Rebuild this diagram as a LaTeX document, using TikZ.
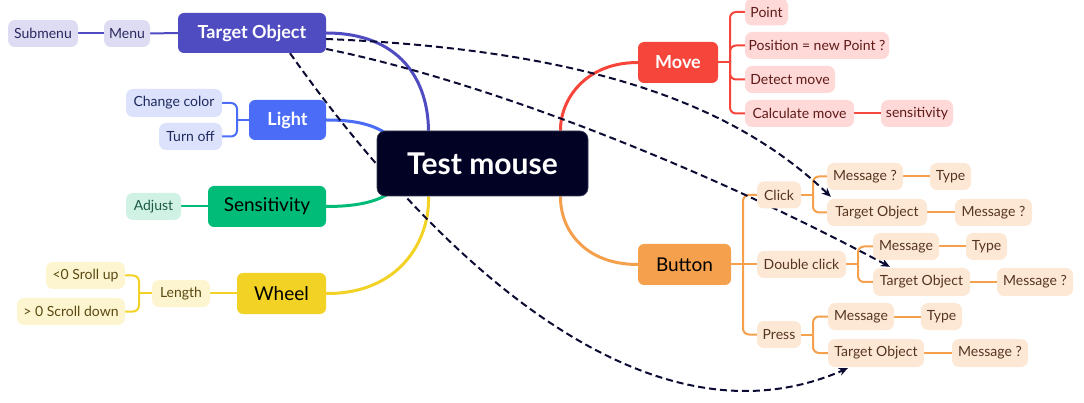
\documentclass[tikz,border=0pt]{standalone}
\usepackage{fontspec}
\setmainfont{Lato}
\usetikzlibrary{arrows.meta,backgrounds,calc}
\definecolor{cnavy}{HTML}{020224}
\definecolor{cbord}{HTML}{3A3A55}
\definecolor{purp}{HTML}{4F4BC1}
\definecolor{purpL}{HTML}{DDDCF2}
\definecolor{purpT}{HTML}{2A2860}
\definecolor{blu}{HTML}{4A6CF7}
\definecolor{bluL}{HTML}{DCE2FC}
\definecolor{bluT}{HTML}{1E2A5E}
\definecolor{grn}{HTML}{00BC78}
\definecolor{grnL}{HTML}{CFF2E5}
\definecolor{grnT}{HTML}{1D5A46}
\definecolor{yel}{HTML}{F2D224}
\definecolor{yelL}{HTML}{FDF5D0}
\definecolor{yelT}{HTML}{5A4A12}
\definecolor{redc}{HTML}{F6453B}
\definecolor{redL}{HTML}{FFD9D8}
\definecolor{redT}{HTML}{5E1A18}
\definecolor{org}{HTML}{F5A04D}
\definecolor{orgL}{HTML}{FDE8D6}
\definecolor{orgT}{HTML}{553520}
\definecolor{dashc}{HTML}{0B0B33}
\begin{document}
\begin{tikzpicture}[x=1pt,y=-1pt,
  sz/.style 2 args={minimum width=#1pt, minimum height=#2pt},
  box/.style={rounded corners=6pt, inner sep=0pt, align=center},
  centerbox/.style={box, fill=cnavy, draw=cbord, line width=0.6pt, text=white, rounded corners=8pt, font=\fontsize{30}{34}\selectfont\bfseries},
  mainw/.style={box, text=white, font=\fontsize{18}{22}\selectfont\bfseries},
  mainb/.style={box, text=black, font=\fontsize{19}{22}\selectfont},
  leaf/.style={box, rounded corners=7pt, font=\fontsize{14}{16}\selectfont},
  pleaf/.style={leaf, fill=purpL, text=purpT},
  bleaf/.style={leaf, fill=bluL, text=bluT},
  gleaf/.style={leaf, fill=grnL, text=grnT},
  yleaf/.style={leaf, fill=yelL, text=yelT},
  rleaf/.style={leaf, fill=redL, text=redT},
  oleaf/.style={leaf, fill=orgL, text=orgT},
  mline/.style={line width=3pt},
  lline/.style={line width=2pt, rounded corners=6pt},
  dline/.style={line width=2pt, dashc, dash pattern=on 7pt off 4pt, -{Stealth[length=9pt,width=8pt]}}
]
\useasboundingbox (0,0) rectangle (1084,403);
% center
\node[centerbox, sz={211}{65}] (c) at (482.5,163.5) {Test mouse};
% Target Object branch
\node[mainw, fill=purp, sz={148}{40}] (targ) at (252,33) {Target Object};
\node[pleaf, sz={46}{27}] (menu) at (127,33.5) {Menu};
\node[pleaf, sz={70}{27}] (sub) at (43,33.5) {Submenu};
% Light branch
\node[mainw, fill=blu, sz={77}{40}] (light) at (287.5,120) {Light};
\node[bleaf, sz={96}{28}] (chg) at (174,103) {Change color};
\node[bleaf, sz={63}{27}] (off) at (190.5,136.5) {Turn off};
% Sensitivity branch
\node[mainb, fill=grn, sz={118}{41}] (sens) at (267,206.5) {Sensitivity};
\node[gleaf, sz={55}{27}] (adj) at (153.5,206.5) {Adjust};
% Wheel branch
\node[mainb, fill=yel, sz={89}{41}] (wheel) at (281.5,293.5) {Wheel};
\node[yleaf, sz={58}{27}] (len) at (181,293.5) {Length};
\node[yleaf, sz={79}{27}] (up) at (85.5,275.5) {<0 Sroll up};
\node[yleaf, sz={108}{27}] (down) at (71,311.5) {> 0 Scroll down};
% Move branch
\node[mainw, fill=redc, sz={80}{41}] (move) at (678,62.5) {Move};
\node[rleaf, sz={43}{27}] (pt) at (766.5,12) {Point};
\node[rleaf, sz={144}{27}] (pos) at (817,45.5) {Position = new Point ?};
\node[rleaf, sz={90}{27}] (det) at (790,79.5) {Detect move};
\node[rleaf, sz={109}{27}] (calcm) at (799.5,113.5) {Calculate move};
\node[rleaf, sz={72}{27}] (sen) at (917,113.5) {sensitivity};
% Button branch
\node[mainb, fill=org, sz={93}{41}] (btn) at (684.5,264.5) {Button};
\node[oleaf, sz={44}{27}] (click) at (779,195) {Click};
\node[oleaf, sz={76}{27}] (mc) at (865,176.5) {Message ?};
\node[oleaf, sz={41}{27}] (tyc) at (950.5,176.5) {Type};
\node[oleaf, sz={100}{27}] (tc) at (877,212.5) {Target Object};
\node[oleaf, sz={77}{27}] (mqc) at (993.5,212.5) {Message ?};
\node[oleaf, sz={89}{27}] (dbl) at (801.5,264.5) {Double click};
\node[oleaf, sz={66}{27}] (md) at (906,246.5) {Message};
\node[oleaf, sz={41}{27}] (tyd) at (986.5,246.5) {Type};
\node[oleaf, sz={97}{28}] (td) at (921.5,282) {Target Object};
\node[oleaf, sz={76}{28}] (mqd) at (1035,282) {Message ?};
\node[oleaf, sz={44}{27}] (press) at (779,334.5) {Press};
\node[oleaf, sz={66}{27}] (mp) at (861,316.5) {Message};
\node[oleaf, sz={41}{27}] (typ) at (941.5,316.5) {Type};
\node[oleaf, sz={96}{28}] (tp) at (876,353) {Target Object};
\node[oleaf, sz={76}{28}] (mqp) at (990,353) {Message ?};
% bracket points
\coordinate (lb) at (237,120);
\coordinate (wb) at (139,293.5);
\coordinate (mb) at (730,62.5);
\coordinate (bb) at (743,264.5);
\coordinate (cb) at (813,195);
\coordinate (db) at (858,264.5);
\coordinate (pb) at (813,334.5);
\begin{scope}[on background layer]
% main curves
\draw[mline, purp] (targ.east) .. controls (400,33) and (428,80) .. ($(c.north)+(-54,0)$);
\draw[mline, blu] (light.east) .. controls (365,120) and (380,128) .. ($(c.north west)+(20,10)$);
\draw[mline, grn] (sens.east) .. controls (362,206.5) and (385,200) .. ($(c.south west)+(20,-10)$);
\draw[mline, yel] (wheel.east) .. controls (400,294) and (430,240) .. ($(c.south)+(-54,0)$);
\draw[mline, redc] (move.west) .. controls (585,62.5) and (560,100) .. ($(c.north)+(78,0)$);
\draw[mline, org] (btn.west) .. controls (585,264.5) and (560,230) .. ($(c.south)+(78,0)$);
% purple leaves
\draw[lline, purp] (targ.west) -- (menu.east);
\draw[lline, purp] (menu.west) -- (sub.east);
% blue leaves
\draw[lline, blu] (light.west) -- (lb);
\draw[lline, blu] (lb) |- (chg.east);
\draw[lline, blu] (lb) |- (off.east);
% green
\draw[lline, grn] (sens.west) -- (adj.east);
% yellow
\draw[lline, yel] (wheel.west) -- (len.east);
\draw[lline, yel] (len.west) -- (wb);
\draw[lline, yel] (wb) |- (up.east);
\draw[lline, yel] (wb) |- (down.east);
% red
\draw[lline, redc] (move.east) -- (mb);
\draw[lline, redc] (mb) |- (pt.west);
\draw[lline, redc] (mb) |- (pos.west);
\draw[lline, redc] (mb) |- (det.west);
\draw[lline, redc] (mb) |- (calcm.west);
\draw[lline, redc] (calcm.east) -- (sen.west);
% orange
\draw[lline, org] (btn.east) -- (bb);
\draw[lline, org] (bb) |- (click.west);
\draw[lline, org] (bb) -- (dbl.west);
\draw[lline, org] (bb) |- (press.west);
\draw[lline, org] (click.east) -- (cb);
\draw[lline, org] (cb) |- (mc.west);
\draw[lline, org] (cb) |- (tc.west);
\draw[lline, org] (mc.east) -- (tyc.west);
\draw[lline, org] (tc.east) -- (mqc.west);
\draw[lline, org] (dbl.east) -- (db);
\draw[lline, org] (db) |- (md.west);
\draw[lline, org] (db) |- (td.west);
\draw[lline, org] (md.east) -- (tyd.west);
\draw[lline, org] (td.east) -- (mqd.west);
\draw[lline, org] (press.east) -- (pb);
\draw[lline, org] (pb) |- (mp.west);
\draw[lline, org] (pb) |- (tp.west);
\draw[lline, org] (mp.east) -- (typ.west);
\draw[lline, org] (tp.east) -- (mqp.west);
% dashed references
\draw[dline] ($(targ.east)+(0,6)$) .. controls (600,50) and (740,110) .. ($(tc.north west)+(4,-2)$);
\draw[dline] ($(targ.east)+(0,16)$) .. controls (480,80) and (700,165) .. ($(td.north west)+(17,-1)$);
\draw[dline] ($(targ.south)+(38,0)$) .. controls (440,265) and (650,455) .. ($(tp.south west)+(20,1)$);
\end{scope}
\end{tikzpicture}
\end{document}
